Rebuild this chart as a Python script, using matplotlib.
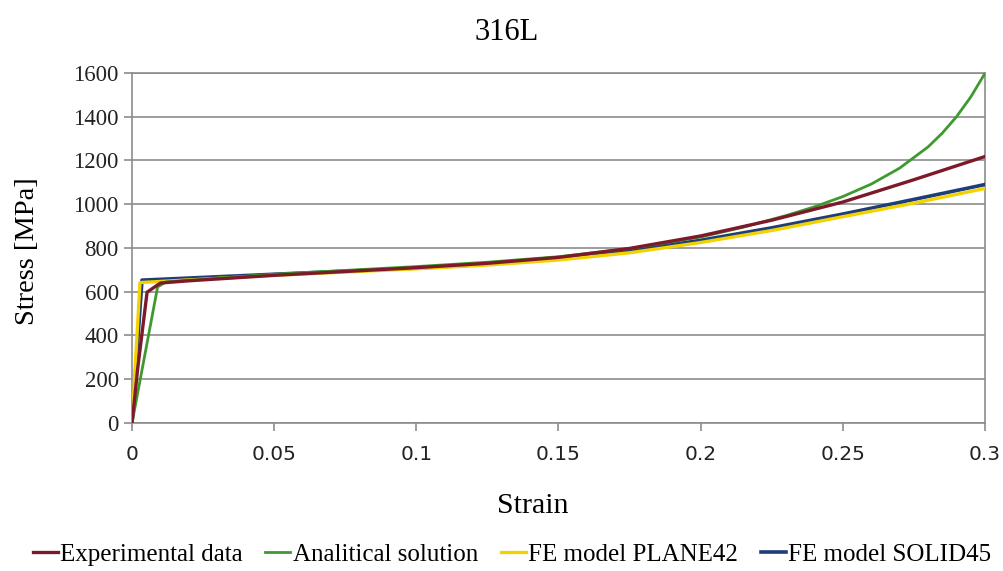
import matplotlib
matplotlib.use('Agg')
import matplotlib.pyplot as plt

plt.rcParams['font.family'] = ['Liberation Serif', 'DejaVu Serif']

# Strain / stress readings for each curve
exp_strain = [0, 0.002, 0.0053, 0.01, 0.02, 0.05, 0.1, 0.125, 0.15, 0.175, 0.2, 0.225, 0.25, 0.275, 0.3]
exp_stress = [0, 250, 598, 640, 650, 675, 710, 730, 757, 798, 855, 927, 1010, 1112, 1218]

ana_strain = [0, 0.009, 0.012, 0.05, 0.1, 0.125, 0.15, 0.175, 0.2, 0.215, 0.23, 0.24, 0.25,
              0.26, 0.27, 0.28, 0.285, 0.29, 0.295, 0.3]
ana_stress = [0, 622, 645, 680, 715, 735, 760, 797, 850, 895, 948, 988, 1035,
              1092, 1165, 1262, 1325, 1400, 1490, 1598]

pl42_strain = [0, 0.0028, 0.05, 0.1, 0.125, 0.15, 0.175, 0.2, 0.225, 0.25, 0.275, 0.3]
pl42_stress = [0, 642, 675, 705, 722, 745, 778, 825, 880, 943, 1005, 1072]

so45_strain = [0, 0.0035, 0.05, 0.1, 0.125, 0.15, 0.175, 0.2, 0.225, 0.25, 0.275, 0.3]
so45_stress = [0, 653, 680, 708, 726, 750, 788, 835, 892, 955, 1022, 1090]

fig = plt.figure(figsize=(10.04, 5.71), dpi=100)
ax = fig.add_axes([0.1315, 0.2592, 0.8495, 0.613])

ax.plot(so45_strain, so45_stress, color='#1f3d78', lw=2.6, label='FE model SOLID45', zorder=3)
ax.plot(pl42_strain, pl42_stress, color='#f2d200', lw=2.4, label='FE model PLANE42', zorder=4)
ax.plot(ana_strain, ana_stress, color='#3e9a2e', lw=2.0, label='Analitical solution', zorder=5)
ax.plot(exp_strain, exp_stress, color='#7d1a2a', lw=2.4, label='Experimental data', zorder=6)

ax.set_xlim(0, 0.3)
ax.set_ylim(0, 1600)
ax.set_xticks([0, 0.05, 0.1, 0.15, 0.2, 0.25, 0.3])
ax.set_xticklabels(['0', '0.05', '0.1', '0.15', '0.2', '0.25', '0.3'],
                   family='DejaVu Sans', fontsize=14.5)
ax.set_yticks(range(0, 1601, 200))
ax.yaxis.grid(True, color='#8c8c8c', lw=1.2)
ax.set_axisbelow(True)
for s in ax.spines.values():
    s.set_color('#8c8c8c')
    s.set_linewidth(1.2)
ax.tick_params(colors='#8c8c8c', labelcolor='#222222', length=6, width=1.2)
ax.tick_params(axis='y', labelsize=16.5)
ax.tick_params(axis='x', pad=10)

ax.set_xlabel('Strain', fontsize=21.5)
ax.xaxis.set_label_coords(0.47, -0.2)
ax.set_ylabel('Stress [MPa]', fontsize=20.5)
ax.yaxis.set_label_coords(-0.108, 0.49)
fig.suptitle('316L', fontsize=22, x=0.505, y=0.968)

h, l = ax.get_legend_handles_labels()
order = [3, 2, 1, 0]
fig.legend([h[i] for i in order], [l[i] for i in order], loc='lower center',
           bbox_to_anchor=(0.51, -0.03), ncol=4, frameon=False, fontsize=18,
           handlelength=1.0, handletextpad=0.1, columnspacing=0.9)

fig.savefig('out.png', dpi=100)
